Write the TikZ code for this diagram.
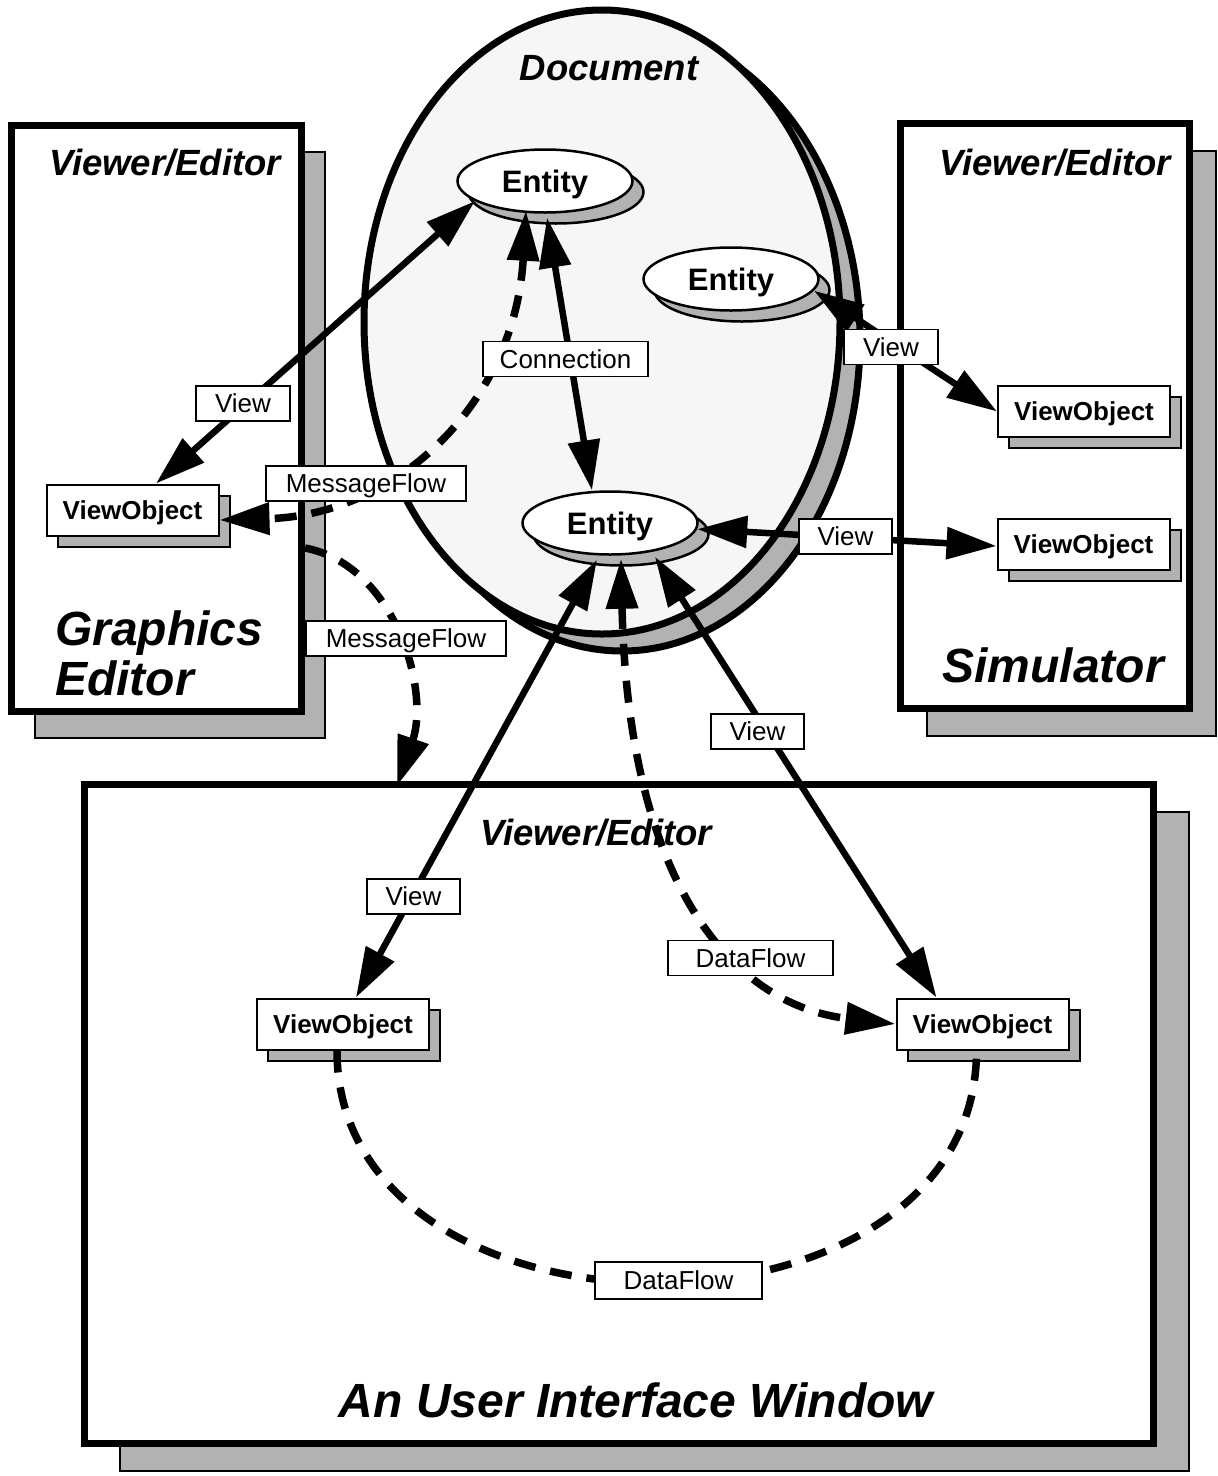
\documentclass[tikz,border=0pt]{standalone}
\usepackage{fontspec}
\setmainfont{Liberation Sans}
\usetikzlibrary{arrows.meta,shapes.geometric,shadows}

\definecolor{shadowgray}{gray}{0.70}
\definecolor{docfill}{gray}{0.965}

% font sizes used in the figure
\newcommand\ftitle{\fontsize{36.5pt}{40pt}\selectfont\bfseries\itshape}
\newcommand\fhuge{\fontsize{48pt}{50pt}\selectfont\bfseries\itshape}
\newcommand\fentity{\fontsize{31pt}{34pt}\selectfont\bfseries}
\newcommand\fobject{\fontsize{26pt}{30pt}\selectfont\bfseries}
\newcommand\flabel{\fontsize{26pt}{30pt}\selectfont}

\begin{document}
\begin{tikzpicture}[x=1pt,y=-1pt,
  >={Triangle[length=50pt,width=31pt]},
  % application window with a drop shadow (#1 = x offset, #2 = y offset)
  frame/.style 2 args={draw, line width=7pt, fill=white, inner sep=0pt,
    outer sep=0pt, anchor=north west,
    general shadow={shadow xshift=#1pt, shadow yshift=-#2pt,
      fill=shadowgray, draw=black, line width=2pt}},
  docshape/.style={ellipse, draw, line width=7pt, fill=docfill,
    inner sep=0pt, minimum width=476pt, minimum height=624pt,
    general shadow={shadow xshift=20pt, shadow yshift=-17pt,
      fill=shadowgray, draw=black, line width=7pt}},
  ttl/.style={font=\ftitle, inner sep=0pt, text height=26.1pt, text depth=0pt},
  bigttl/.style={font=\fhuge, inner sep=0pt, text height=34.4pt, text depth=0pt},
  entity/.style={ellipse, draw, line width=2.5pt, fill=white, inner sep=0pt,
    minimum width=175pt, minimum height=63pt, font=\fentity,
    text height=22.2pt, text depth=0pt,
    general shadow={shadow xshift=11pt, shadow yshift=-11pt,
      fill=shadowgray, draw=black, line width=2.5pt}},
  vobj/.style={rectangle, draw, line width=2pt, fill=white, inner sep=0pt,
    minimum width=172pt, minimum height=51pt, font=\fobject,
    text height=18.6pt, text depth=0pt,
    general shadow={shadow xshift=11pt, shadow yshift=-11pt,
      fill=shadowgray, draw=black, line width=2pt}},
  lbl/.style={draw, line width=1.8pt, fill=white, font=\flabel, inner sep=0pt,
    minimum height=35pt, text height=18.6pt, text depth=0pt},
  link/.style={line width=6.5pt},
  flow/.style={line width=7.5pt, dash pattern=on 22pt off 15pt}
]
\useasboundingbox (0,0) rectangle (1218,1476);

% windows
\node[frame={24}{27}, minimum width=290pt, minimum height=586pt] (ge) at (11,125) {};
\node[frame={27}{28}, minimum width=289pt, minimum height=585pt] (sim) at (900,123) {};
\node[frame={36}{28}, minimum width=1069pt, minimum height=659pt] (ui) at (84,784) {};

% document
\node[docshape] (doc) at (602,322) {};

% titles
\node[ttl] (doc-title) at (609,67.5) {Document};
\node[ttl] (ge-title) at (165,162.5) {Viewer/Editor};
\node[ttl] (sim-title) at (1055,162.5) {Viewer/Editor};
\node[ttl] (ui-title) at (596,832.5) {Viewer/Editor};
\node[bigttl, anchor=west] (ge-name1) at (55,628.5) {Graphics};
\node[bigttl, anchor=west] (ge-name2) at (55,678) {Editor};
\node[bigttl] (sim-name) at (1053,665) {Simulator};
\node[bigttl] (ui-name) at (636,1400) {An User Interface Window};

% entities
\node[entity] (e1) at (545,181) {Entity};
\node[entity] (e2) at (731,279) {Entity};
\node[entity] (e3) at (610,523) {Entity};

% view objects
\node[vobj] (lvo) at (132.5,510) {ViewObject};
\node[vobj] (svo1) at (1084,411.5) {ViewObject};
\node[vobj] (svo2) at (1083.5,544.5) {ViewObject};
\node[vobj] (bvo1) at (343,1024) {ViewObject};
\node[vobj] (bvo2) at (982.5,1024) {ViewObject};

% ports of the message flow between the two windows
\coordinate (mfA) at (305,548);
\coordinate (mfB) at (397,786);

% views
\draw[link,<->] (e1.196) -- ([xshift=23.5pt]lvo.north);
\draw[link,<->] (e2.-8) -- (svo1.west);
\draw[link,<->] (e3.-4) -- ([yshift=-1.5pt]svo2.west);
\draw[link,<->] ([shift={(-13,4)}]e3.south) -- ([xshift=13pt]bvo1.north);
\draw[link,<->] ([shift={(45,1)}]e3.south) -- ([xshift=-46pt]bvo2.north);
% connection
\draw[link,<->] ([shift={(2,4)}]e1.south) -- ([xshift=-18pt]e3.north);

% flows
\draw[flow,<->] ([shift={(-19,-3)}]e1.south) .. controls (515,400) and (400,515) .. ([yshift=-10pt]lvo.east);
\draw[flow,->] (mfA) .. controls (395,565) and (430,690) .. (mfB);
\draw[flow,<->] ([shift={(11,3)}]e3.south) .. controls (628,880) and (730,1005) .. (bvo2.west);
\draw[flow] ([xshift=-6pt]bvo1.south) .. controls +(0,310) and +(0,310) .. ([xshift=-6pt]bvo2.south);

% labels
\node[lbl, minimum width=94pt] (l-view1) at (243,403.5) {View};
\node[lbl, minimum width=165pt] (l-conn) at (565.5,359) {Connection};
\node[lbl, minimum width=94pt] (l-view2) at (891,347) {View};
\node[lbl, minimum width=200pt] (l-msg1) at (366,483.5) {MessageFlow};
\node[lbl, minimum width=200pt] (l-msg2) at (406,638.5) {MessageFlow};
\node[lbl, minimum width=93pt] (l-view3) at (845.5,536.5) {View};
\node[lbl, minimum width=93pt] (l-view4) at (757.5,731.5) {View};
\node[lbl, minimum width=93pt] (l-view5) at (413.5,896.5) {View};
\node[lbl, minimum width=165pt] (l-data1) at (750.5,958) {DataFlow};
\node[lbl, minimum width=167pt, minimum height=37pt] (l-data2) at (678.5,1280.5) {DataFlow};
\end{tikzpicture}
\end{document}
